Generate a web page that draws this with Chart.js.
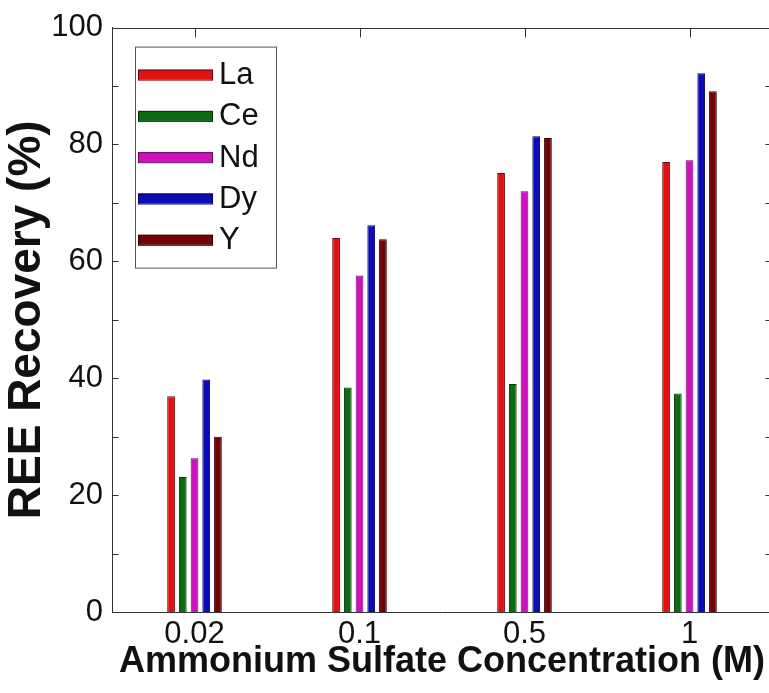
<!DOCTYPE html>
<html>
<head>
<meta charset="utf-8">
<script src="https://cdn.jsdelivr.net/npm/chart.js@4/dist/chart.umd.min.js"></script>
<style>
  html, body { margin: 0; padding: 0; background: #fff; overflow: hidden; }
  #wrap { position: absolute; left: 0; top: 0; width: 775px; height: 693px; }
</style>
</head>
<body>
<div id="wrap"><canvas id="c" width="775" height="693"></canvas></div>
<script>
// Ammonium sulfate concentrations (M)
const concentrations = ['0.02', '0.1', '0.5', '1'];

// REE recovery (%) for each element
const recoveryLa = [36.9, 64.0, 75.1, 77.0];
const recoveryCe = [23.1, 38.4, 39.0, 37.4];
const recoveryNd = [26.3, 57.6, 72.0, 77.3];
const recoveryDy = [39.8, 66.2, 81.4, 92.2];
const recoveryY  = [30.0, 63.8, 81.1, 89.1];

const elements = ['La', 'Ce', 'Nd', 'Dy', 'Y'];
const yTickValues = [0, 20, 40, 60, 80, 100];

const fills   = ['#e50f12', '#0c6a12', '#cf12c0', '#0c0cb8', '#740205'];
const borders = ['#6a0808', '#053306', '#5e085a', '#050556', '#300000'];

const AXIS_COLOR = '#333333';
const FONT = '"Liberation Sans", Arial, Helvetica, sans-serif';

const seriesValues = [recoveryLa, recoveryCe, recoveryNd, recoveryDy, recoveryY];

// Closed axes box with inward tick marks on all four sides
const frameTicks = {
  id: 'frameTicks',
  beforeDatasetsDraw(chart) {
    const { ctx, chartArea: a, scales: { x } } = chart;
    ctx.save();
    ctx.strokeStyle = AXIS_COLOR;
    ctx.lineWidth = 1;
    ctx.beginPath();
    x.ticks.forEach((t, i) => {
      const px = Math.round(x.getPixelForTick(i)) + 0.5;
      ctx.moveTo(px, a.bottom);
      ctx.lineTo(px, a.bottom - 9);
    });
    ctx.stroke();
    ctx.restore();
  },
  afterDraw(chart) {
    const { ctx, chartArea: a, scales: { x, y } } = chart;
    ctx.save();
    ctx.strokeStyle = AXIS_COLOR;
    ctx.lineWidth = 1;
    ctx.beginPath();
    const l = Math.round(a.left) + 0.5, r = Math.round(a.right) - 0.5;
    const t = Math.round(a.top) + 0.5, b = Math.round(a.bottom) - 0.5;
    ctx.moveTo(l, t); ctx.lineTo(r, t); ctx.lineTo(r, b);
    for (let v = y.min; v <= y.max; v += 10) {
      const py = Math.round(y.getPixelForValue(v)) + 0.5;
      ctx.moveTo(l, py); ctx.lineTo(l + 6, py);
      ctx.moveTo(r, py); ctx.lineTo(r - 6, py);
    }
    x.ticks.forEach((tk, i) => {
      const px = Math.round(x.getPixelForTick(i)) + 0.5;
      ctx.moveTo(px, t); ctx.lineTo(px, t + 9);
    });
    ctx.stroke();
    ctx.restore();
  }
};

// Legend box in the upper-left corner of the plot
const insetLegend = {
  id: 'insetLegend',
  afterDraw(chart) {
    const { ctx, chartArea: a } = chart;
    const bx = a.left + 23, by = a.top + 19, bw = 141, bh = 221;
    ctx.save();
    ctx.fillStyle = '#fff';
    ctx.fillRect(bx, by, bw, bh);
    ctx.strokeStyle = '#555';
    ctx.lineWidth = 1;
    ctx.strokeRect(bx + 0.5, by + 0.5, bw, bh);
    ctx.font = '31px ' + FONT;
    ctx.textBaseline = 'middle';
    chart.data.datasets.forEach((ds, i) => {
      const cy = by + 28 + i * 41.3;
      ctx.fillStyle = ds.backgroundColor;
      ctx.strokeStyle = ds.borderColor;
      ctx.fillRect(bx + 3, cy - 5, 75, 10);
      ctx.strokeRect(bx + 3.5, cy - 5 + 0.5, 74, 10);
      ctx.fillStyle = '#111';
      ctx.fillText(ds.label, bx + 84, cy + 1);
    });
    ctx.restore();
  }
};

new Chart(document.getElementById('c'), {
  type: 'bar',
  data: {
    labels: concentrations,
    datasets: elements.map((name, i) => ({
      label: name,
      data: seriesValues[i],
      backgroundColor: fills[i],
      borderColor: borders[i],
      borderWidth: 1,
      categoryPercentage: 0.355,
      barPercentage: 0.66
    }))
  },
  options: {
    responsive: false,
    animation: false,
    devicePixelRatio: 1,
    layout: { padding: { top: 26, right: 3, left: 0, bottom: 0 } },
    plugins: { legend: { display: false }, tooltip: { enabled: false } },
    scales: {
      x: {
        offset: true,
        grid: { display: false, drawTicks: false },
        border: { display: true, color: AXIS_COLOR, width: 1 },
        ticks: { color: '#111', font: { family: FONT, size: 31 }, padding: 4, maxRotation: 0 },
        title: {
          display: true,
          text: 'Ammonium Sulfate Concentration (M)',
          color: '#111',
          font: { family: FONT, size: 36, weight: 'bold', lineHeight: 1.2 },
          padding: { top: 0, bottom: 9 }
        },
        afterFit(s) { s.height = 81; }
      },
      y: {
        min: 0,
        max: 100,
        afterBuildTicks(s) { s.ticks = yTickValues.map(v => ({ value: v })); },
        grid: { display: false, drawTicks: false },
        border: { display: true, color: AXIS_COLOR, width: 1 },
        ticks: { color: '#111', font: { family: FONT, size: 31 }, padding: 9 },
        title: {
          display: true,
          text: 'REE Recovery (%)',
          color: '#111',
          font: { family: FONT, size: 46, weight: 'bold', lineHeight: 1.2 },
          padding: { top: 0, bottom: 0 }
        },
        afterFit(s) { s.width = 112; }
      }
    }
  },
  plugins: [frameTicks, insetLegend]
});
</script>
</body>
</html>
